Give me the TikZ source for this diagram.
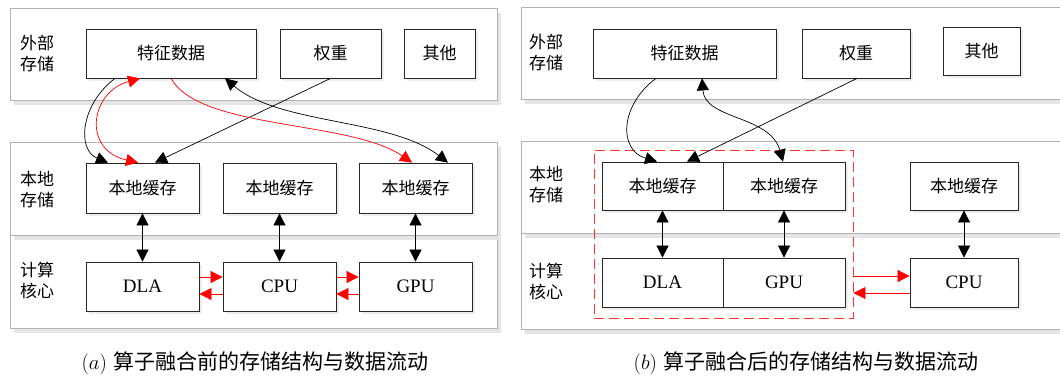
\documentclass[tikz,border=0pt]{standalone}
\usepackage{fontspec}
\newfontfamily\cjk{Noto Sans CJK SC}
\newfontfamily\lat{Liberation Serif}
\usetikzlibrary{arrows.meta,shadows,calc}

\begin{document}
\begin{tikzpicture}[x=1pt,y=-1pt,
  panel/.style={draw=black!30, line width=1pt, fill=white, inner sep=0pt,
    drop shadow={shadow xshift=4pt,shadow yshift=-5pt,fill=black!10,opacity=1}},
  box/.style={draw=black!85, line width=0.8pt, fill=white, inner sep=0pt,
    font=\cjk\fontsize{17}{21}\selectfont,
    drop shadow={shadow xshift=3pt,shadow yshift=-3pt,fill=black!7,opacity=1}},
  core/.style={box, font=\lat\fontsize{19}{21}\selectfont},
  side/.style={font=\cjk\fontsize{17}{21}\selectfont, align=left, inner sep=0pt},
  link/.style={black, line width=0.7pt},
  flow/.style={red, line width=0.7pt},
  onehead/.style={-{Triangle[length=12pt,width=12pt]}},
  dblhead/.style={{Triangle[length=12pt,width=12pt]}-{Triangle[length=12pt,width=12pt]}},
  fusebox/.style={draw=red!80, line width=0.8pt, dash pattern=on 10pt off 5pt, inner sep=0pt},
  caption/.style={font=\fontsize{21}{24}\selectfont, inner sep=0pt}
]
\path[use as bounding box, fill=white] (0,0) rectangle (1060,381);

% ---------- (a) before fusion ----------
\node[panel, minimum width=487pt, minimum height=92pt] (extA) at (253.5,54) {};
\node[panel, minimum width=487pt, minimum height=93pt] (cmpA) at (253.5,281.5) {};
\node[panel, minimum width=487pt, minimum height=93pt] (locA) at (253.5,188.5) {};

\node[side] (lblA1) at (37,53) {外部\\存储};
\node[side] (lblA2) at (37,189.5) {本地\\存储};
\node[side] (lblA3) at (37,280.5) {计算\\核心};

\node[box, minimum width=170pt, minimum height=49pt] (fA) at (171,53.5) {特征数据};
\node[box, minimum width=101pt, minimum height=49pt] (wA) at (330.5,53.5) {权重};
\node[box, minimum width=71pt, minimum height=49pt] (oA) at (439.5,53.5) {其他};

\node[box, minimum width=113pt, minimum height=50pt] (cA1) at (142.5,188) {本地缓存};
\node[box, minimum width=113pt, minimum height=50pt] (cA2) at (279.5,188) {本地缓存};
\node[box, minimum width=113pt, minimum height=50pt] (cA3) at (415.5,188) {本地缓存};

\node[core, minimum width=113pt, minimum height=49pt] (dA) at (142.5,286.5) {DLA};
\node[core, minimum width=113pt, minimum height=49pt] (pA) at (279.5,286.5) {CPU};
\node[core, minimum width=113pt, minimum height=49pt] (gA) at (415.5,286.5) {GPU};

\draw[link, dblhead] (cA1) -- (dA);
\draw[link, dblhead] (cA2) -- (pA);
\draw[link, dblhead] (cA3) -- (gA);

\draw[flow, onehead] ([yshift=9.5pt]dA.east) -- ([yshift=9.5pt]pA.west);
\draw[flow, onehead] ([yshift=-7.5pt]pA.west) -- ([yshift=-7.5pt]dA.east);
\draw[flow, onehead] ([yshift=9.5pt]pA.east) -- ([yshift=9.5pt]gA.west);
\draw[flow, onehead] ([yshift=-7.5pt]gA.west) -- ([yshift=-7.5pt]pA.east);

\draw[link, onehead] ([xshift=-56pt]fA.south) .. controls (80,105) and (77,150) .. ([xshift=-34.5pt]cA1.north);
\draw[flow, dblhead] ([xshift=-31pt]fA.south) .. controls (90,92) and (82,150) .. ([xshift=-4.5pt]cA1.north);
\draw[link, onehead] (wA.south) -- ([xshift=12.5pt]cA1.north);
\draw[flow, onehead] (fA.south) .. controls (200,130) and (350,120) .. ([xshift=-3.5pt]cA3.north);
\draw[link, dblhead] ([xshift=54pt]fA.south) .. controls (280,125) and (390,118) .. ([xshift=32.5pt]cA3.north);

% ---------- (b) after fusion ----------
\node[panel, minimum width=554pt, minimum height=92pt] (extB) at (798,53) {};
\node[panel, minimum width=554pt, minimum height=96pt] (cmpB) at (798,281) {};
\node[panel, minimum width=554pt, minimum height=92pt] (locB) at (798,187) {};

\node[side] (lblB1) at (546,52) {外部\\存储};
\node[side] (lblB2) at (546,185) {本地\\存储};
\node[side] (lblB3) at (546,281) {计算\\核心};

\node[box, minimum width=183pt, minimum height=49pt] (fB) at (684.5,53.5) {特征数据};
\node[box, minimum width=108pt, minimum height=49pt] (wB) at (856,53.5) {权重};
\node[box, minimum width=77pt, minimum height=48pt] (oB) at (981.5,51) {其他};

\node[fusebox, minimum width=259pt, minimum height=168pt] (fuse) at (723.5,234) {};

\node[box, minimum width=121pt, minimum height=48pt] (cB1) at (662.5,186) {本地缓存};
\node[box, minimum width=122pt, minimum height=48pt] (cB2) at (784,186) {本地缓存};
\node[box, minimum width=108pt, minimum height=48pt] (cB3) at (964,186) {本地缓存};

\node[core, minimum width=121pt, minimum height=49pt] (dB) at (662.5,282.5) {DLA};
\node[core, minimum width=122pt, minimum height=49pt] (gB) at (784,282.5) {GPU};
\node[core, minimum width=108pt, minimum height=49pt] (pB) at (964,282.5) {CPU};

\draw[link, dblhead] (cB1) -- (dB);
\draw[link, dblhead] (cB2) -- (gB);
\draw[link, dblhead] (cB3) -- (pB);

\coordinate (rto) at ([yshift=6.5pt]pB.west);
\coordinate (rback) at ([yshift=-10.5pt]pB.west);
\draw[flow, onehead] (rto -| fuse.east) -- (rto);
\draw[flow, onehead] (rback) -- (rback -| fuse.east);

\draw[link, onehead] ([xshift=-28.5pt]fB.south) .. controls (620,105) and (618,150) .. ([xshift=-5.5pt]cB1.north);
\draw[link, onehead] ([xshift=1pt]wB.south) -- ([xshift=24.5pt]cB1.north);
\draw[link, dblhead] ([xshift=17.5pt]fB.south) .. controls (705,120) and (770,115) .. ([xshift=-1pt]cB2.north);

% ---------- captions ----------
\node[caption] (capA) at (255,363) {$(a)$ {\cjk 算子融合前的存储结构与数据流动}};
\node[caption] (capB) at (806,363) {$(b)$ {\cjk 算子融合后的存储结构与数据流动}};
\end{tikzpicture}
\end{document}
